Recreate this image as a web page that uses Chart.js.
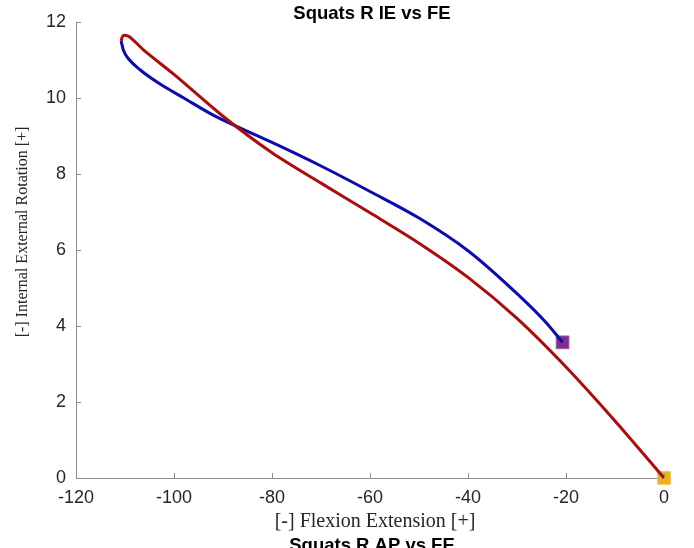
<!DOCTYPE html>
<html>
<head>
<meta charset="utf-8">
<script src="https://cdn.jsdelivr.net/npm/chart.js@4.4.0/dist/chart.umd.min.js"></script>
<style>
  html, body { margin: 0; padding: 0; background: #fff; }
  #wrap { width: 694px; height: 548px; }
</style>
</head>
<body>
<div id="wrap"><canvas id="myChart" width="694" height="548"></canvas></div>
<script>
// Curve: red goes out from the start, blue comes back
const redX = [0, -10, -20, -30, -40, -50, -60, -70, -80, -90, -100, -106, -109.2, -110.4, -110.8];
const redY = [0, 1.50, 2.92, 4.20, 5.28, 6.18, 6.98, 7.76, 8.56, 9.52, 10.62, 11.24, 11.62, 11.64, 11.50];
const blueX = [-110.8, -110.3, -109.2, -107, -103, -98, -92, -86, -80, -70, -60, -50, -40, -30, -24, -20.7];
const blueY = [11.50, 11.25, 11.02, 10.75, 10.38, 10.00, 9.55, 9.18, 8.83, 8.21, 7.54, 6.84, 5.98, 4.85, 4.08, 3.57];

// start / end markers
const startPoint = [0, 0];
const endPoint = [-20.7, 3.57];

const xTicks = [-120, -100, -80, -60, -40, -20, 0];
const yTicks = [0, 2, 4, 6, 8, 10, 12];

const titleText = 'Squats R IE vs FE';
const nextTitleText = 'Squats R AP vs FE';
const xLabel = '[-] Flexion Extension [+]';
const yLabel = '[-] Internal External Rotation [+]';

const toPoints = (xs, ys) => xs.map((x, i) => ({ x: x, y: ys[i] }));

const axisColor = '#8c8c8c';
const textColor = '#262626';

// Draws the inward ticks and the titles (MATLAB look)
const matlabAxes = {
    id: 'matlabAxes',
    afterDraw(chart) {
        const c = chart.ctx;
        const xs = chart.scales.x;
        const ys = chart.scales.y;
        const area = chart.chartArea;
        c.save();
        c.strokeStyle = axisColor;
        c.lineWidth = 1;
        c.beginPath();
        xTicks.forEach(v => {
            const px = Math.round(xs.getPixelForValue(v)) + 0.5;
            c.moveTo(px, area.bottom);
            c.lineTo(px, area.bottom - 5);
        });
        yTicks.forEach(v => {
            const py = Math.round(ys.getPixelForValue(v)) + 0.5;
            c.moveTo(area.left, py);
            c.lineTo(area.left + 5, py);
        });
        c.stroke();

        const cx = (area.left + area.right) / 2;
        c.fillStyle = '#000';
        c.textAlign = 'center';
        c.textBaseline = 'alphabetic';
        c.font = 'bold 18.5px "Liberation Sans", Arial, sans-serif';
        c.fillText(titleText, cx + 2, 19);
        c.fillText(nextTitleText, cx + 2, 551);

        c.fillStyle = textColor;
        c.textBaseline = 'middle';
        c.font = '20px "Liberation Serif", "Times New Roman", serif';
        c.fillText(xLabel, cx + 5, 522);

        c.font = '16px "Liberation Serif", "Times New Roman", serif';
        c.translate(23, 232);
        c.rotate(-Math.PI / 2);
        c.fillText(yLabel, 0, 0);
        c.restore();
    }
};

const ctx = document.getElementById('myChart').getContext('2d');
const chart = new Chart(ctx, {
    type: 'scatter',
    data: {
        datasets: [
            {
                data: toPoints(redX, redY),
                showLine: true,
                borderColor: '#ae0b0b',
                borderWidth: 3,
                pointRadius: 0,
                tension: 0.3,
                clip: false
            },
            {
                data: toPoints(blueX, blueY),
                showLine: true,
                borderColor: '#0b0bae',
                borderWidth: 3,
                pointRadius: 0,
                cubicInterpolationMode: 'monotone',
                clip: false
            },
            {
                data: [{ x: endPoint[0], y: endPoint[1] }],
                pointStyle: 'rect',
                pointRadius: 9,
                backgroundColor: '#7e2f8e',
                borderColor: '#9a5aa8',
                borderWidth: 1,
                clip: false
            },
            {
                data: [{ x: startPoint[0], y: startPoint[1] }],
                pointStyle: 'rect',
                pointRadius: 9,
                backgroundColor: '#edb120',
                borderColor: '#f2c250',
                borderWidth: 1,
                clip: false
            },
            {
                // small white dot inside each marker
                data: [{ x: startPoint[0], y: startPoint[1] }, { x: endPoint[0], y: endPoint[1] }],
                pointStyle: 'circle',
                pointRadius: 1.3,
                backgroundColor: '#ffffff',
                borderWidth: 0,
                clip: false
            }
        ]
    },
    options: {
        responsive: false,
        animation: false,
        events: [],
        layout: { padding: { top: 22, right: 30, left: 0, bottom: 0 } },
        plugins: {
            legend: { display: false },
            tooltip: { enabled: false },
            title: { display: false }
        },
        scales: {
            x: {
                type: 'linear',
                min: -120,
                max: 0,
                afterFit: s => { s.height = 70; },
                afterBuildTicks: s => { s.ticks = xTicks.map(v => ({ value: v })); },
                grid: { display: false, drawTicks: false },
                border: { display: true, color: axisColor, width: 1 },
                ticks: {
                    color: textColor,
                    padding: 9,
                    maxRotation: 0,
                    font: { family: '"Liberation Sans", Arial, sans-serif', size: 18 }
                }
            },
            y: {
                type: 'linear',
                min: 0,
                max: 12,
                afterFit: s => { s.width = 76; },
                afterBuildTicks: s => { s.ticks = yTicks.map(v => ({ value: v })); },
                grid: { display: false, drawTicks: false },
                border: { display: true, color: axisColor, width: 1 },
                ticks: {
                    color: textColor,
                    padding: 10,
                    font: { family: '"Liberation Sans", Arial, sans-serif', size: 18 }
                }
            }
        }
    },
    plugins: [matlabAxes]
});
</script>
</body>
</html>
